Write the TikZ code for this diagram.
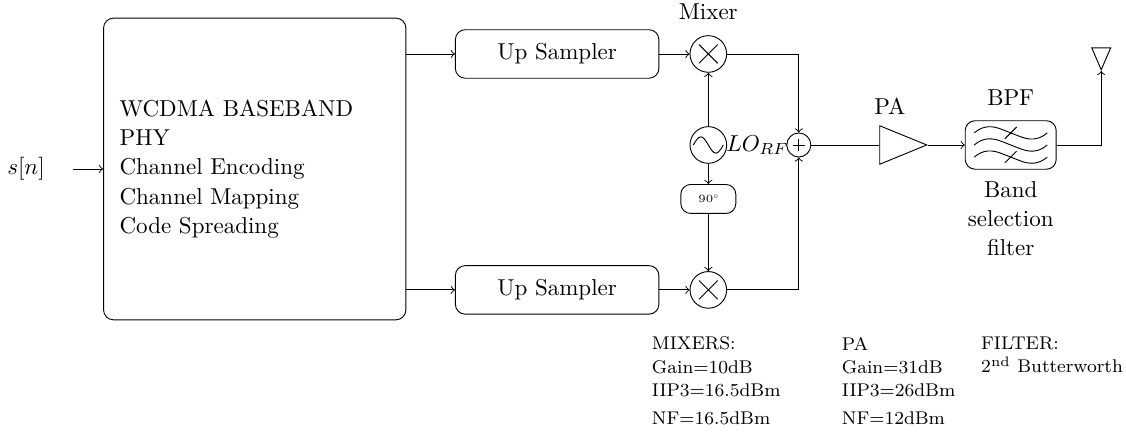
\documentclass[tikz,border=0pt]{standalone}
\usepackage{tikz}
\usetikzlibrary{positioning}
\usetikzlibrary{calc}
\usetikzlibrary{shapes.geometric}
\tikzset{
  block/.style={rectangle,draw,rounded corners=.15cm,minimum width=3.11cm,minimum height=.741cm},
  base box/.style={block,minimum width=4.62cm,minimum height=4.61cm,text width=4.13cm,
    align=left,inner sep=.244cm,font={\fontsize{10}{12.7}\selectfont}},
  shift box/.style={block,minimum width=.84cm,minimum height=.443cm,inner sep=0pt,font={\fontsize{4.8}{6}\selectfont}},
  mixer/.style={circle,draw,inner sep=0pt,minimum size=.56cm,
    path picture={
      \draw (path picture bounding box.center) ++(-.143,.143) -- ++(.286,-.286);
      \draw (path picture bounding box.center) ++(-.143,-.143) -- ++(.286,.286);
    }},
  adder/.style={circle,draw,inner sep=0pt,minimum size=.367cm,
    path picture={
      \draw (path picture bounding box.center) ++(-.094,0) -- ++(.188,0);
      \draw (path picture bounding box.center) ++(0,-.094) -- ++(0,.188);
    }},
  osc/.style={circle,draw,inner sep=0pt,minimum size=.56cm,
    path picture={
      \draw (path picture bounding box.center) ++(-.229,0)
        sin ++(.115,.125) cos ++(.114,-.125) sin ++(.115,-.125) cos ++(.114,.125);
    }},
  filter box/.style={block,minimum width=1.39cm,
    path picture={
      \begin{scope}[shift={(path picture bounding box.center)}]
      \foreach \yo in {-.185,0,.185}{
        \draw (-.558,\yo) .. controls (-.42,\yo+.12) and (-.28,\yo+.11) .. (0,\yo)
          .. controls (.28,\yo-.11) and (.42,\yo-.12) .. (.558,\yo);
      }
      \draw (-.09,.095) -- (.09,.275);
      \draw (-.09,-.275) -- (.09,-.095);
      \end{scope}
    }},
  amp/.style={isosceles triangle,isosceles triangle stretches,draw,inner sep=0pt,
    minimum width=.588cm,minimum height=.718cm,anchor=west},
  ant/.style={isosceles triangle,isosceles triangle stretches,draw,inner sep=0pt,
    shape border rotate=-90,minimum width=.29cm,minimum height=.336cm,anchor=apex},
  spec/.style={anchor=north west,inner sep=0pt,align=left,font={\fontsize{8}{10.1}\selectfont}},
}
\begin{document}
\begin{tikzpicture}
    \useasboundingbox (0,0) rectangle (17.21,6.647);

    \node (sn) at (.397,4.064) {$s[n]$};
    \coordinate (snout) at (1.115,4.064);
    \node[base box] (phy) at (3.893,4.064) {WCDMA BASEBAND\\PHY\\Channel Encoding\\Channel Mapping\\Code Spreading};

    \node[block] (upI) at (8.515,5.822) {Up Sampler};
    \node[block] (upQ) at (8.515,2.216) {Up Sampler};
    \node[mixer] (mixI) at (10.826,5.822) {};
    \node[mixer] (mixQ) at (10.826,2.216) {};
    \node[osc] (lo) at (10.826,4.431) {};
    \node[shift box] (shift) at (10.826,3.606) {90\raisebox{.75ex}{\scalebox{.6}{$\circ$}}};
    \node[adder] (sum) at (12.209,4.431) {};
    \node[amp] (pa) at (13.439,4.431) {};
    \node[filter box] (bpf) at (15.448,4.431) {};
    \node[ant] (antenna) at (16.831,5.562) {};

    \node[above=.23cm of mixI,inner sep=0pt] (mixlabel) {Mixer};
    \node[right=-.02cm of lo,inner sep=0pt] (lolabel) {$LO_{RF}$};
    \node (palabel) at (13.6,5.02) {PA};
    \node[above=.1cm of bpf] (bpflabel) {BPF};
    \node[below=.055cm of bpf,align=center,font={\fontsize{10}{12.7}\selectfont}] (bpfnote) {Band\\selection\\filter};

    \node[spec] (mixspec) at (9.958,1.505) {MIXERS:\\Gain=10dB\\IIP3=16.5dBm\\[2pt]NF=16.5dBm};
    \node[spec] (paspec) at (12.861,1.505) {PA\\Gain=31dB\\IIP3=26dBm\\[2pt]NF=12dBm};
    \node[spec] (filterspec) at (14.99,1.505) {FILTER:\\$2^{\mathrm{nd}}$\ Butterworth};

    \draw[->] (snout) -- (phy.west);
    \draw[->] (phy.east |- upI.west) -- (upI.west);
    \draw[->] (phy.east |- upQ.west) -- (upQ.west);
    \draw[->] (upI) -- (mixI);
    \draw[->] (upQ) -- (mixQ);
    \draw[->] (lo) -- (mixI);
    \draw[->] (lo) -- (shift);
    \draw[->] (shift) -- (mixQ);
    \draw[->] (mixI) -| (sum);
    \draw[->] (mixQ) -| (sum);
    \draw (sum) -- (pa.west);
    \draw[->] (pa.apex) -- (bpf.west);
    \draw[->] (bpf) -| (antenna.apex);
\end{tikzpicture}
\end{document}
